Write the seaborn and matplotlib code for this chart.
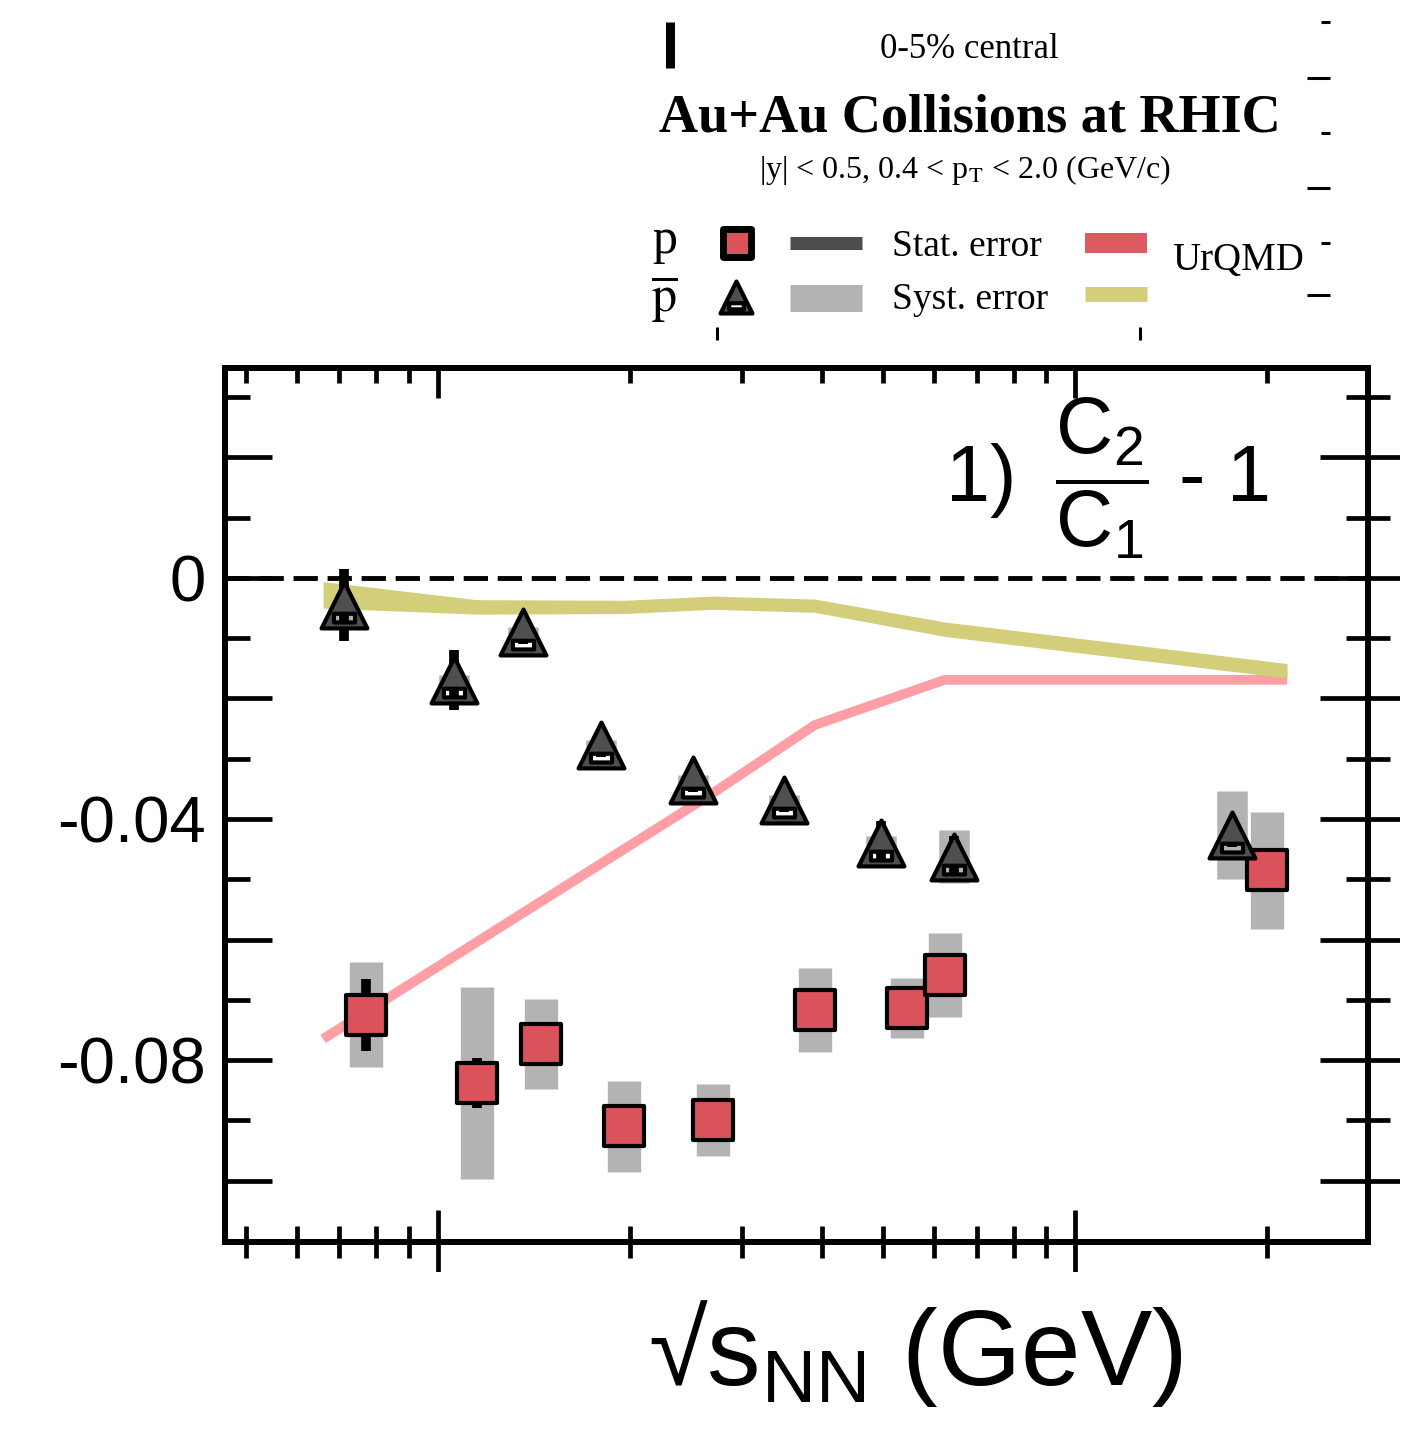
import matplotlib
matplotlib.use("Agg")
import matplotlib.pyplot as plt
import numpy as np
import seaborn as sns
from matplotlib.path import Path
from matplotlib.markers import MarkerStyle

# ---------------- data ----------------
energy = [7.7, 11.5, 14.5, 19.6, 27, 39, 54.4, 62.4, 200]          # sqrt(s_NN), GeV
# antiproton points are drawn slightly displaced in energy for visibility
pbar_energy_drawn = [7.12, 10.6, 13.6, 18.0, 25.1, 34.9, 49.6, 64.6, 176.0]

proton_val = [-0.0725, -0.0838, -0.0773, -0.0910, -0.0900, -0.0717, -0.0714, -0.0659, -0.0485]
proton_stat = [0.0060, 0.0042, 0.0025, 0.0025, 0.0025, 0.0025, 0.0020, 0.0025, 0.0030]
proton_syst = [0.0087, 0.0159, 0.0075, 0.0075, 0.0060, 0.0069, 0.0050, 0.0070, 0.0097]

pbar_val = [-0.0045, -0.0169, -0.0090, -0.0277, -0.0335, -0.0368, -0.0440, -0.0463, -0.0427]
pbar_stat = [0.0060, 0.0050, 0.0020, 0.0020, 0.0020, 0.0020, 0.0036, 0.0034, 0.0020]
pbar_syst = [0.0030, 0.0008, 0.0008, 0.0008, 0.0008, 0.0008, 0.0012, 0.0044, 0.0073]

urqmd_p_energy = [6.6, 27, 39, 62.4, 215]
urqmd_p_val = [-0.0765, -0.0357, -0.0244, -0.0169, -0.0169]

urqmd_pbar_energy = [6.6, 11.5, 19.6, 27, 39, 62.4, 215]
urqmd_pbar_val = [-0.0028, -0.0048, -0.0048, -0.0041, -0.0046, -0.0085, -0.0154]
urqmd_pbar_err = [0.0022, 0.0012, 0.0011, 0.0011, 0.0011, 0.0012, 0.0012]

y_major = [-0.10, -0.08, -0.06, -0.04, -0.02, 0.0, 0.02]
y_minor = [-0.09, -0.07, -0.05, -0.03, -0.01, 0.01, 0.03]
y_major_labels = ["", "-0.08", "", "-0.04", "", "0", ""]

# ---------------- style ----------------
sns.set_theme(style="ticks")
plt.rcParams.update({
    "font.family": ["Liberation Sans", "DejaVu Sans"],
    "mathtext.fontset": "custom",
    "mathtext.rm": "Liberation Sans",
    "mathtext.it": "Liberation Sans:italic",
    "mathtext.bf": "Liberation Sans:bold",
    "axes.linewidth": 4.3,
    "axes.edgecolor": "black",
    "axes.labelcolor": "black",
    "text.color": "black",
    "lines.solid_capstyle": "butt",
    "xtick.color": "black",
    "ytick.color": "black",
    "xtick.labelcolor": "black",
    "ytick.labelcolor": "black",
})

RED = "#da535b"
TRI_FILL = "#4f4f4f"
SYST = "#b3b3b3"

# triangle with a small open bar near its base
tri_verts = [(0, 1), (-1, -1), (1, -1), (0, 1),
             (-0.46, -0.36), (0.46, -0.36), (0.46, -0.74), (-0.46, -0.74), (-0.46, -0.36)]
tri_codes = [Path.MOVETO, Path.LINETO, Path.LINETO, Path.CLOSEPOLY,
             Path.MOVETO, Path.LINETO, Path.LINETO, Path.LINETO, Path.CLOSEPOLY]
tri_marker = MarkerStyle(Path(tri_verts, tri_codes))

W, H = 1425, 1444
fig = plt.figure(figsize=(W / 100, H / 100), dpi=100)
ax = fig.add_axes([225 / W, 1 - 1242 / H, (1368 - 225) / W, (1242 - 368) / H])
ax.set_xscale("log")
ax.set_xlim(4.63, 288)
ax.set_ylim(-0.1102, 0.03485)

# zero reference
ax.axhline(0, color="black", lw=3.5, dashes=(5, 2), zorder=2.5)

# systematic uncertainties as grey boxes
for xs, ys, es, w in [(energy, proton_val, proton_syst, 24), (pbar_energy_drawn, pbar_val, pbar_syst, 22)]:
    cont = ax.errorbar(xs, ys, yerr=es, fmt="none", ecolor=SYST, elinewidth=w, capsize=0, zorder=2)
    for coll in cont.lines[2]:
        coll.set_capstyle("butt")

# UrQMD curves
sns.lineplot(x=urqmd_p_energy, y=urqmd_p_val, ax=ax, color="#ff9ea4", lw=7.0,
             sort=False, estimator=None, zorder=3)
lo = np.array(urqmd_pbar_val) - np.array(urqmd_pbar_err)
hi = np.array(urqmd_pbar_val) + np.array(urqmd_pbar_err)
ax.fill_between(urqmd_pbar_energy, lo, hi, color="#d3ce7a", lw=0, zorder=3.1)

# statistical uncertainties
for xs, ys, es in [(energy, proton_val, proton_stat), (pbar_energy_drawn, pbar_val, pbar_stat)]:
    cont = ax.errorbar(xs, ys, yerr=es, fmt="none", ecolor="black", elinewidth=7, capsize=0, zorder=4)
    for coll in cont.lines[2]:
        coll.set_capstyle("butt")

# markers
sns.scatterplot(x=energy, y=proton_val, ax=ax, marker="s", s=28.5 ** 2, color=RED,
                edgecolor="black", linewidth=3.0, zorder=5, legend=False)
sns.scatterplot(x=pbar_energy_drawn, y=pbar_val, ax=ax, marker=tri_marker, s=33 ** 2, color=TRI_FILL,
                edgecolor="black", linewidth=3.0, zorder=5, legend=False)

# ---- ticks ----
ax.set_yticks(y_major)
ax.set_yticks(y_minor, minor=True)
ax.set_yticklabels(y_major_labels)
ax.tick_params(axis="y", which="major", direction="in", length=34, width=3.4, pad=14,
               labelsize=47, left=True, right=False, labelcolor="black")
ax.tick_params(axis="y", which="minor", direction="in", length=18, width=3.4, left=True, right=False)
ax.xaxis.set_major_locator(matplotlib.ticker.LogLocator(base=10))
ax.xaxis.set_minor_locator(matplotlib.ticker.LogLocator(base=10, subs=np.arange(2, 10)))
ax.xaxis.set_major_formatter(matplotlib.ticker.NullFormatter())
ax.xaxis.set_minor_formatter(matplotlib.ticker.NullFormatter())
ax.tick_params(axis="x", which="major", direction="inout", length=46, width=3.4, bottom=True, top=False)
ax.tick_params(axis="x", which="minor", direction="inout", length=23, width=3.4, bottom=True, top=False)

ax_r = ax.twinx()
ax_r.set_ylim(ax.get_ylim())
ax_r.set_yticks(y_major)
ax_r.set_yticks(y_minor, minor=True)
ax_r.tick_params(axis="y", which="major", direction="inout", length=69, width=3.4, labelright=False)
ax_r.tick_params(axis="y", which="minor", direction="inout", length=32, width=3.4, labelright=False)

ax_t = ax.twiny()
ax_t.set_xscale("log")
ax_t.set_xlim(ax.get_xlim())
ax_t.xaxis.set_major_locator(matplotlib.ticker.LogLocator(base=10))
ax_t.xaxis.set_minor_locator(matplotlib.ticker.LogLocator(base=10, subs=np.arange(2, 10)))
ax_t.xaxis.set_major_formatter(matplotlib.ticker.NullFormatter())
ax_t.xaxis.set_minor_formatter(matplotlib.ticker.NullFormatter())
ax_t.tick_params(axis="x", which="major", direction="in", length=21.5, width=3.4)
ax_t.tick_params(axis="x", which="minor", direction="in", length=11, width=3.4)
for a in (ax, ax_r, ax_t):
    for sp in a.spines.values():
        sp.set_linewidth(4.3)
        sp.set_color("black")

ax.set_xlabel(r"√s$_{\mathrm{NN}}$ (GeV)", fontsize=77, color="black")
ax.xaxis.set_label_coords(0.6037, -0.064)
ax.set_ylabel("")

# panel label
ax.text(0.913, 0.874, r"1) $\;\dfrac{\mathrm{C}_{2}}{\mathrm{C}_{1}}$ - 1", transform=ax.transAxes,
        fontsize=57, ha="right", va="center", zorder=6, color="black")

# ---------------- header / legend block (pixel coordinates) ----------------
ov = fig.add_axes([0, 0, 1, 1])
ov.set_xlim(0, W)
ov.set_ylim(H, 0)
ov.axis("off")
ov.set_zorder(10)

# trimmed margins of the plot frame
ov.add_patch(plt.Rectangle((0, 1272), W, 26, color="white", lw=0))
ov.add_patch(plt.Rectangle((1400, 340), 25, 932, color="white", lw=0))

serif = ["Liberation Serif", "DejaVu Serif"]
ov.text(969, 58, "0-5% central", fontsize=25, family=serif, ha="center", va="baseline")
ov.text(970, 132, "Au+Au Collisions at RHIC", fontsize=39, family=serif, fontweight="bold",
        ha="center", va="baseline")
ov.text(965, 178, r"|y| < 0.5, 0.4 < p$_{\mathrm{T}}$ < 2.0 (GeV/c)", fontsize=23, family=serif,
        math_fontfamily="stix", ha="center", va="baseline")

ov.text(665, 253, "p", fontsize=36, family=serif, ha="center", va="baseline")
ov.text(665, 311, r"$\overline{\mathrm{p}}$", fontsize=36, family=serif, math_fontfamily="stix",
        ha="center", va="baseline")
ov.scatter([737], [243], marker="s", s=20 ** 2, color=RED, edgecolors="black", linewidths=5)
ov.scatter([736], [297], marker=tri_marker, s=23 ** 2, color=TRI_FILL, edgecolors="black", linewidths=3)

ov.plot([790, 862], [243, 243], color="#4d4d4d", lw=9.4, solid_capstyle="butt")
ov.plot([790, 862], [298, 298], color=SYST, lw=19.4, solid_capstyle="butt")
ov.text(892, 256, "Stat. error", fontsize=27, family=serif, ha="left", va="baseline")
ov.text(892, 309, "Syst. error", fontsize=27, family=serif, ha="left", va="baseline")
ov.plot([1085, 1147], [243, 243], color="#dc5b61", lw=14.4, solid_capstyle="butt")
ov.plot([1085, 1147], [294, 294], color="#d4cf7b", lw=10.8, solid_capstyle="butt")
ov.text(1172, 270, "UrQMD", fontsize=28, family=serif, ha="left", va="baseline")

# frame fragments at the top of the canvas
ov.plot([670, 670], [22, 68], color="black", lw=6.5, solid_capstyle="butt")
for yy, x0 in [(22, 1321), (78, 1307), (133, 1321), (188, 1307), (243, 1321), (295, 1307)]:
    ov.plot([x0, 1330], [yy, yy], color="black", lw=2.2, solid_capstyle="butt")
for xx in (717, 1140):
    ov.plot([xx, xx], [327, 340], color="black", lw=2.2, solid_capstyle="butt")

fig.savefig("out.png", dpi=100)
